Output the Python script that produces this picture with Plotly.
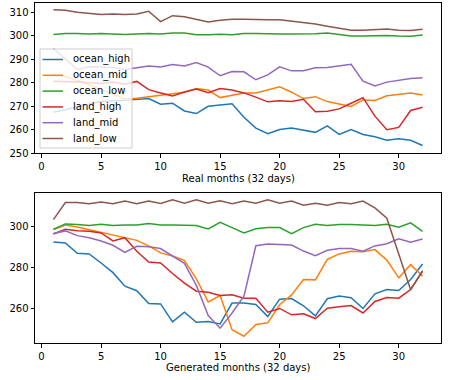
import plotly.graph_objects as go
from plotly.subplots import make_subplots

months = list(range(1, 33))
names = ["ocean_high", "ocean_mid", "ocean_low", "land_high", "land_mid", "land_low"]
colors = ["#1f77b4", "#ff7f0e", "#2ca02c", "#d62728", "#9467bd", "#8c564b"]

# real months
real_ocean_high = [267.4, 268.4, 269.8, 270.8, 271.9, 272.2, 272.6, 273.0, 273.2, 270.8, 271.2, 267.9, 266.8, 269.9, 270.5, 271.0,
                   265.2, 260.6, 258.2, 260.0, 260.6, 259.6, 258.8, 261.6, 257.9, 260.0, 257.9, 256.9, 255.4, 256.1, 255.4, 253.2]
real_ocean_mid = [283.4, 282.5, 281.0, 279.0, 277.0, 275.0, 273.0, 273.3, 273.9, 274.5, 275.0, 275.9, 277.5, 276.8, 273.6, 274.5,
                  275.6, 275.6, 276.8, 278.2, 275.9, 273.2, 274.0, 271.9, 270.9, 269.8, 272.6, 272.4, 274.4, 275.0, 275.6, 274.7]
real_ocean_low = [300.5, 300.9, 300.9, 300.7, 300.9, 300.7, 300.5, 300.7, 300.9, 300.7, 301.1, 301.1, 300.4, 300.4, 300.6, 300.4,
                  300.9, 300.9, 300.7, 300.7, 300.7, 300.7, 300.8, 301.1, 300.3, 299.8, 299.8, 300.0, 300.1, 299.8, 299.7, 300.3]
real_land_high = [280.6, 280.6, 280.3, 279.9, 279.6, 280.2, 279.3, 280.5, 277.0, 275.6, 274.3, 276.0, 277.3, 275.7, 277.5, 276.8,
                  275.6, 273.8, 271.8, 272.3, 271.9, 272.9, 267.6, 267.8, 268.8, 271.2, 273.6, 265.7, 259.9, 260.9, 268.1, 269.5]
real_land_mid = [294.5, 290.0, 285.6, 286.7, 286.7, 286.4, 285.6, 286.3, 287.1, 286.6, 287.7, 287.1, 288.5, 286.6, 282.9, 284.7,
                 284.6, 281.2, 283.3, 286.7, 285.0, 285.0, 286.3, 286.4, 287.1, 287.8, 280.6, 278.6, 280.2, 281.0, 281.7, 282.1]
real_land_low = [311.0, 310.8, 310.0, 309.5, 309.0, 309.2, 309.0, 309.2, 310.4, 306.0, 308.5, 308.0, 307.0, 305.8, 306.6, 307.0,
                 307.0, 306.8, 306.8, 306.8, 306.2, 305.5, 305.0, 304.0, 303.3, 302.3, 302.3, 302.6, 302.8, 302.3, 302.2, 302.7]

# generated months
gen_ocean_high = [292.5, 292.0, 287.0, 286.7, 282.3, 277.6, 271.0, 268.8, 262.6, 262.4, 253.7, 258.4, 253.5, 253.8, 252.7, 262.8,
                  262.9, 262.1, 256.3, 264.7, 265.0, 261.5, 256.6, 264.9, 266.2, 265.4, 260.2, 267.3, 269.4, 268.9, 274.3, 281.8]
gen_ocean_mid = [298.5, 300.8, 299.8, 298.5, 296.9, 295.6, 294.3, 293.3, 290.6, 287.2, 285.7, 283.6, 274.6, 263.4, 266.5, 249.9,
                 246.7, 252.4, 253.2, 262.0, 266.8, 274.3, 274.1, 284.1, 286.7, 288.0, 287.8, 288.8, 283.7, 275.1, 281.5, 275.9]
gen_ocean_low = [298.7, 301.3, 301.0, 300.5, 301.1, 300.5, 300.8, 300.8, 301.5, 300.8, 300.8, 300.5, 300.5, 298.9, 302.1, 299.5,
                 296.9, 298.9, 299.5, 299.5, 296.6, 299.5, 301.1, 300.5, 301.0, 301.0, 300.7, 300.5, 301.1, 299.7, 301.8, 297.7]
gen_land_high = [296.4, 298.7, 298.0, 297.7, 296.9, 293.0, 294.6, 288.0, 282.8, 282.3, 277.2, 272.5, 268.6, 268.1, 266.5, 266.8,
                 265.2, 265.2, 258.4, 260.2, 257.1, 257.6, 255.3, 260.3, 261.0, 261.6, 258.0, 263.6, 265.5, 265.2, 269.4, 278.2]
gen_land_mid = [296.6, 297.9, 295.6, 294.6, 293.0, 290.9, 287.5, 290.4, 290.2, 289.3, 285.7, 282.1, 271.4, 256.7, 250.6, 258.0,
                266.2, 290.7, 291.5, 291.4, 291.0, 288.1, 285.9, 288.5, 289.3, 289.3, 288.0, 290.6, 291.7, 294.1, 292.4, 294.0]
gen_land_low = [303.4, 311.7, 311.7, 311.1, 312.0, 311.1, 312.4, 311.1, 312.4, 311.2, 313.0, 311.4, 313.0, 311.4, 312.5, 311.1,
                312.4, 311.4, 313.0, 311.4, 312.4, 310.4, 311.4, 310.4, 311.7, 311.1, 312.4, 309.1, 304.1, 287.0, 269.3, 278.6]

real = [real_ocean_high, real_ocean_mid, real_ocean_low, real_land_high, real_land_mid, real_land_low]
gen = [gen_ocean_high, gen_ocean_mid, gen_ocean_low, gen_land_high, gen_land_mid, gen_land_low]

fig = make_subplots(rows=2, cols=1, vertical_spacing=0.1176)

for name, color, ys in zip(names, colors, real):
    fig.add_trace(go.Scatter(x=months, y=ys, mode="lines", name=name,
                             line=dict(color=color, width=1.5)), row=1, col=1)
for name, color, ys in zip(names, colors, gen):
    fig.add_trace(go.Scatter(x=months, y=ys, mode="lines", name=name,
                             line=dict(color=color, width=1.5)), row=2, col=1)

axis_style = dict(showline=True, linecolor="black", linewidth=1, mirror=True,
                  ticks="outside", ticklen=3.5, tickcolor="black", showgrid=False,
                  zeroline=False, tickfont=dict(size=10, color="black"))

fig.update_xaxes(range=[-0.55, 33.55], tickvals=[0, 5, 10, 15, 20, 25, 30], **axis_style)
fig.update_yaxes(**axis_style)
fig.update_yaxes(range=[250.0, 313.9], tickvals=[250, 260, 270, 280, 290, 300, 310], row=1, col=1)
fig.update_yaxes(range=[243.4, 316.3], tickvals=[260, 280, 300], row=2, col=1)

# axis labels, placed like matplotlib's xlabel
fig.add_annotation(text="Real months (32 days)", x=0.5, y=0.485, xref="paper", yref="paper",
                   xanchor="center", yanchor="middle", showarrow=False, font=dict(size=10))
fig.add_annotation(text="Generated months (32 days)", x=0.5, y=-0.0735, xref="paper", yref="paper",
                   xanchor="center", yanchor="middle", showarrow=False, font=dict(size=10))

# matplotlib-style legend box (plotly's own legend rows are too tall)
def px_x(p):
    return (p - 35) / 406

def px_y(p):
    return (343 - p) / 340

fig.add_shape(type="rect", xref="paper", yref="paper",
              x0=px_x(40), x1=px_x(132), y0=px_y(148), y1=px_y(49),
              fillcolor="rgba(255,255,255,0.8)", line=dict(color="#cccccc", width=1))
for i, (name, color) in enumerate(zip(names, colors)):
    yy = px_y(59.5 + 15.8 * i)
    fig.add_shape(type="line", xref="paper", yref="paper",
                  x0=px_x(42.5), x1=px_x(63), y0=yy, y1=yy,
                  line=dict(color=color, width=1.5))
    fig.add_annotation(text=name, x=px_x(71), y=yy, xref="paper", yref="paper",
                       xanchor="left", yanchor="middle", showarrow=False,
                       font=dict(size=10))

fig.update_layout(
    width=465, height=380,
    margin=dict(l=35, r=24, t=3, b=37),
    paper_bgcolor="white", plot_bgcolor="white",
    font=dict(family="DejaVu Sans", size=10, color="black"),
    yaxis=dict(domain=[0.5588, 1.0]),
    yaxis2=dict(domain=[0.0, 0.441]),
    showlegend=False,
)

# drop the browser's default body margin so the figure sits at the page corner
fig.write_html("out.html", config={"displayModeBar": False},
               post_script="document.body.style.margin='0px';")
